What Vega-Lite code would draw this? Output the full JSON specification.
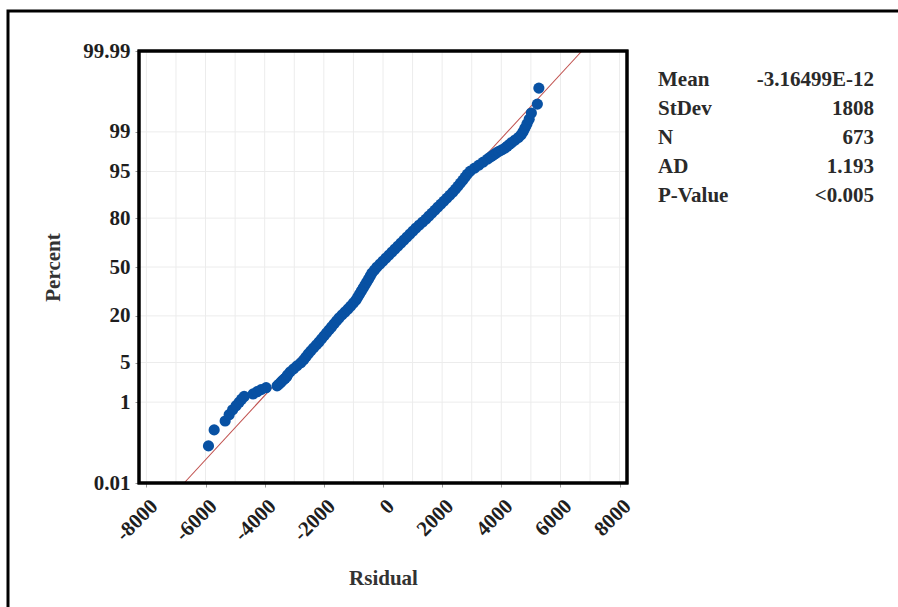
{
  "$schema": "https://vega.github.io/schema/vega-lite/v6.json",
  "width": 893,
  "height": 599,
  "autosize": {"type": "none"},
  "padding": {"left": 8, "top": 11, "right": -3, "bottom": -3},
  "background": "white",
  "config": {
    "view": {"stroke": "#000000", "strokeWidth": 3},
    "font": "Liberation Serif"
  },
  "datasets": {
    "residuals": [
      {"residual": -5901, "score": -3.080}, {"residual": -5709, "score": -2.805}, {"residual": -5337, "score": -2.651},
      {"residual": -5202, "score": -2.543}, {"residual": -5084, "score": -2.459}, {"residual": -4966, "score": -2.388},
      {"residual": -4864, "score": -2.329}, {"residual": -4780, "score": -2.276}, {"residual": -4695, "score": -2.229},
      {"residual": -4391, "score": -2.186}, {"residual": -4256, "score": -2.147}, {"residual": -4121, "score": -2.111},
      {"residual": -3952, "score": -2.078}, {"residual": -3581, "score": -2.047}, {"residual": -3513, "score": -2.017},
      {"residual": -3462, "score": -1.990}, {"residual": -3412, "score": -1.964}, {"residual": -3361, "score": -1.939},
      {"residual": -3310, "score": -1.915}, {"residual": -3260, "score": -1.892},
      {"residual": -3226, "score": -1.857}, {"residual": -3138, "score": -1.805}, {"residual": -3023, "score": -1.754},
      {"residual": -2908, "score": -1.702}, {"residual": -2780, "score": -1.651}, {"residual": -2682, "score": -1.599},
      {"residual": -2604, "score": -1.547}, {"residual": -2527, "score": -1.496}, {"residual": -2439, "score": -1.444},
      {"residual": -2348, "score": -1.393}, {"residual": -2253, "score": -1.341}, {"residual": -2162, "score": -1.290},
      {"residual": -2077, "score": -1.238}, {"residual": -1993, "score": -1.186}, {"residual": -1909, "score": -1.135},
      {"residual": -1824, "score": -1.083}, {"residual": -1740, "score": -1.032}, {"residual": -1655, "score": -0.980},
      {"residual": -1571, "score": -0.928}, {"residual": -1486, "score": -0.877}, {"residual": -1385, "score": -0.825},
      {"residual": -1284, "score": -0.774}, {"residual": -1182, "score": -0.722}, {"residual": -1089, "score": -0.671},
      {"residual": -1000, "score": -0.619}, {"residual": -912, "score": -0.567}, {"residual": -851, "score": -0.516},
      {"residual": -790, "score": -0.464}, {"residual": -730, "score": -0.413}, {"residual": -669, "score": -0.361},
      {"residual": -608, "score": -0.309}, {"residual": -547, "score": -0.258}, {"residual": -486, "score": -0.206},
      {"residual": -429, "score": -0.155}, {"residual": -372, "score": -0.103}, {"residual": -287, "score": -0.052},
      {"residual": -203, "score": 0.000}, {"residual": -101, "score": 0.052}, {"residual": 0, "score": 0.103},
      {"residual": 101, "score": 0.155}, {"residual": 203, "score": 0.206}, {"residual": 304, "score": 0.258},
      {"residual": 405, "score": 0.309}, {"residual": 507, "score": 0.361}, {"residual": 608, "score": 0.413},
      {"residual": 709, "score": 0.464}, {"residual": 811, "score": 0.516}, {"residual": 912, "score": 0.567},
      {"residual": 1013, "score": 0.619}, {"residual": 1115, "score": 0.671}, {"residual": 1226, "score": 0.722},
      {"residual": 1341, "score": 0.774}, {"residual": 1453, "score": 0.825}, {"residual": 1554, "score": 0.877},
      {"residual": 1655, "score": 0.928}, {"residual": 1757, "score": 0.980}, {"residual": 1858, "score": 1.032},
      {"residual": 1959, "score": 1.083}, {"residual": 2061, "score": 1.135}, {"residual": 2162, "score": 1.186},
      {"residual": 2263, "score": 1.238}, {"residual": 2365, "score": 1.290}, {"residual": 2452, "score": 1.341},
      {"residual": 2537, "score": 1.393}, {"residual": 2618, "score": 1.444}, {"residual": 2702, "score": 1.496},
      {"residual": 2778, "score": 1.547}, {"residual": 2854, "score": 1.599}, {"residual": 2952, "score": 1.651},
      {"residual": 3098, "score": 1.702}, {"residual": 3243, "score": 1.754}, {"residual": 3388, "score": 1.805},
      {"residual": 3533, "score": 1.857},
      {"residual": 3628, "score": 1.892}, {"residual": 3696, "score": 1.915}, {"residual": 3760, "score": 1.939},
      {"residual": 3831, "score": 1.964}, {"residual": 3918, "score": 1.990}, {"residual": 4020, "score": 2.017},
      {"residual": 4125, "score": 2.047}, {"residual": 4199, "score": 2.078}, {"residual": 4277, "score": 2.111},
      {"residual": 4364, "score": 2.147}, {"residual": 4466, "score": 2.186}, {"residual": 4577, "score": 2.229},
      {"residual": 4672, "score": 2.276}, {"residual": 4736, "score": 2.329}, {"residual": 4797, "score": 2.388},
      {"residual": 4864, "score": 2.459}, {"residual": 4942, "score": 2.543}, {"residual": 5016, "score": 2.651},
      {"residual": 5219, "score": 2.805}, {"residual": 5270, "score": 3.080}
    ],
    "fit": [
      {"residual": -6724, "score": -3.719},
      {"residual": 6724, "score": 3.719}
    ],
    "gridResidual": [
      {"residual": -8000}, {"residual": -7000}, {"residual": -6000}, {"residual": -5000}, {"residual": -4000},
      {"residual": -3000}, {"residual": -2000}, {"residual": -1000}, {"residual": 0}, {"residual": 1000},
      {"residual": 2000}, {"residual": 3000}, {"residual": 4000}, {"residual": 5000}, {"residual": 6000},
      {"residual": 7000}, {"residual": 8000}
    ],
    "gridPercent": [
      {"score": -2.3263}, {"score": -1.6449}, {"score": -0.8416}, {"score": 0},
      {"score": 0.8416}, {"score": 1.6449}, {"score": 2.3263}
    ],
    "summary": [
      {"stat": "Mean", "value": "-3.16499E-12"},
      {"stat": "StDev", "value": "1808"},
      {"stat": "N", "value": "673"},
      {"stat": "AD", "value": "1.193"},
      {"stat": "P-Value", "value": "<0.005"}
    ]
  },
  "layer": [
    {
      "layer": [
        {
          "data": {"name": "gridResidual"},
          "mark": {"type": "rule", "color": "#ececec", "strokeWidth": 1},
          "encoding": {
            "x": {"field": "residual", "type": "quantitative", "scale": {"domain": [-8250, 8250], "range": [131, 619], "nice": false, "zero": false}},
            "y": {"datum": -3.719, "scale": {"domain": [-3.719, 3.719], "range": [472, 40], "nice": false, "zero": false}},
            "y2": {"datum": 3.719}
          }
        },
        {
          "data": {"name": "gridPercent"},
          "mark": {"type": "rule", "color": "#ececec", "strokeWidth": 1},
          "encoding": {
            "y": {"field": "score", "type": "quantitative"},
            "x": {"datum": -8250},
            "x2": {"datum": 8250}
          }
        },
        {
          "data": {"name": "fit"},
          "mark": {"type": "line", "color": "#c0504d", "strokeWidth": 1.1},
          "encoding": {
            "x": {"field": "residual", "type": "quantitative"},
            "y": {"field": "score", "type": "quantitative"}
          }
        },
        {
          "data": {"name": "residuals"},
          "mark": {"type": "point", "shape": "circle", "filled": true, "size": 125, "color": "#0851a3", "opacity": 1},
          "encoding": {
            "x": {
              "field": "residual",
              "type": "quantitative",
              "axis": {
                "orient": "bottom",
                "offset": -127,
                "values": [-8000, -6000, -4000, -2000, 0, 2000, 4000, 6000, 8000],
                "labelExpr": "'' + datum.value",
                "labelAngle": -45,
                "labelAlign": "right",
                "labelBaseline": "top",
                "labelPadding": 8,
                "labelFlush": false,
                "labelOverlap": false,
                "domain": false,
                "grid": false,
                "tickSize": 4,
                "tickColor": "#999999",
                "labelFont": "Liberation Serif",
                "labelFontSize": 21,
                "labelFontWeight": "bold",
                "labelColor": "#1e1e1e",
                "title": "Rsidual",
                "titleFont": "Liberation Serif",
                "titleFontSize": 21,
                "titleFontWeight": "bold",
                "titleColor": "#333333",
                "titlePadding": 23
              }
            },
            "y": {
              "field": "score",
              "type": "quantitative",
              "axis": {
                "orient": "left",
                "offset": -131,
                "values": [-3.719, -2.3263, -1.6449, -0.8416, 0, 0.8416, 1.6449, 2.3263, 3.719],
                "labelExpr": "datum.value > 3 ? '99.99' : datum.value > 2 ? '99' : datum.value > 1.5 ? '95' : datum.value > 0.5 ? '80' : datum.value > -0.5 ? '50' : datum.value > -1 ? '20' : datum.value > -2 ? '5' : datum.value > -3 ? '1' : '0.01'",
                "labelPadding": 5,
                "labelFlush": false,
                "labelOverlap": false,
                "domain": false,
                "grid": false,
                "tickSize": 4,
                "tickColor": "#999999",
                "labelFont": "Liberation Serif",
                "labelFontSize": 21,
                "labelFontWeight": "bold",
                "labelColor": "#1e1e1e",
                "title": "Percent",
                "titleFont": "Liberation Serif",
                "titleFontSize": 21,
                "titleFontWeight": "bold",
                "titleColor": "#333333",
                "titlePadding": 19
              }
            }
          }
        },
        {
          "data": {"name": "fit"},
          "mark": {"type": "rect", "fill": "transparent", "stroke": "#000000", "strokeWidth": 3},
          "encoding": {
            "x": {"datum": -8250},
            "x2": {"datum": 8250},
            "y": {"datum": -3.719},
            "y2": {"datum": 3.719}
          }
        }
      ]
    },
    {
      "data": {"name": "summary"},
      "layer": [
        {
          "mark": {"type": "text", "align": "left", "baseline": "alphabetic", "font": "Liberation Serif", "fontSize": 21, "fontWeight": "bold", "color": "#2a2a2a"},
          "encoding": {
            "x": {"datum": 0, "scale": {"domain": [0, 1], "range": [650, 866]}, "axis": null},
            "y": {"field": "stat", "type": "nominal", "sort": null, "scale": {"type": "point", "range": [75, 191], "padding": 0}, "axis": null},
            "text": {"field": "stat"}
          }
        },
        {
          "mark": {"type": "text", "align": "right", "baseline": "alphabetic", "font": "Liberation Serif", "fontSize": 21, "fontWeight": "bold", "color": "#2a2a2a"},
          "encoding": {
            "x": {"datum": 1},
            "y": {"field": "stat", "type": "nominal", "sort": null},
            "text": {"field": "value"}
          }
        }
      ]
    }
  ],
  "resolve": {"scale": {"x": "independent", "y": "independent"}}
}
